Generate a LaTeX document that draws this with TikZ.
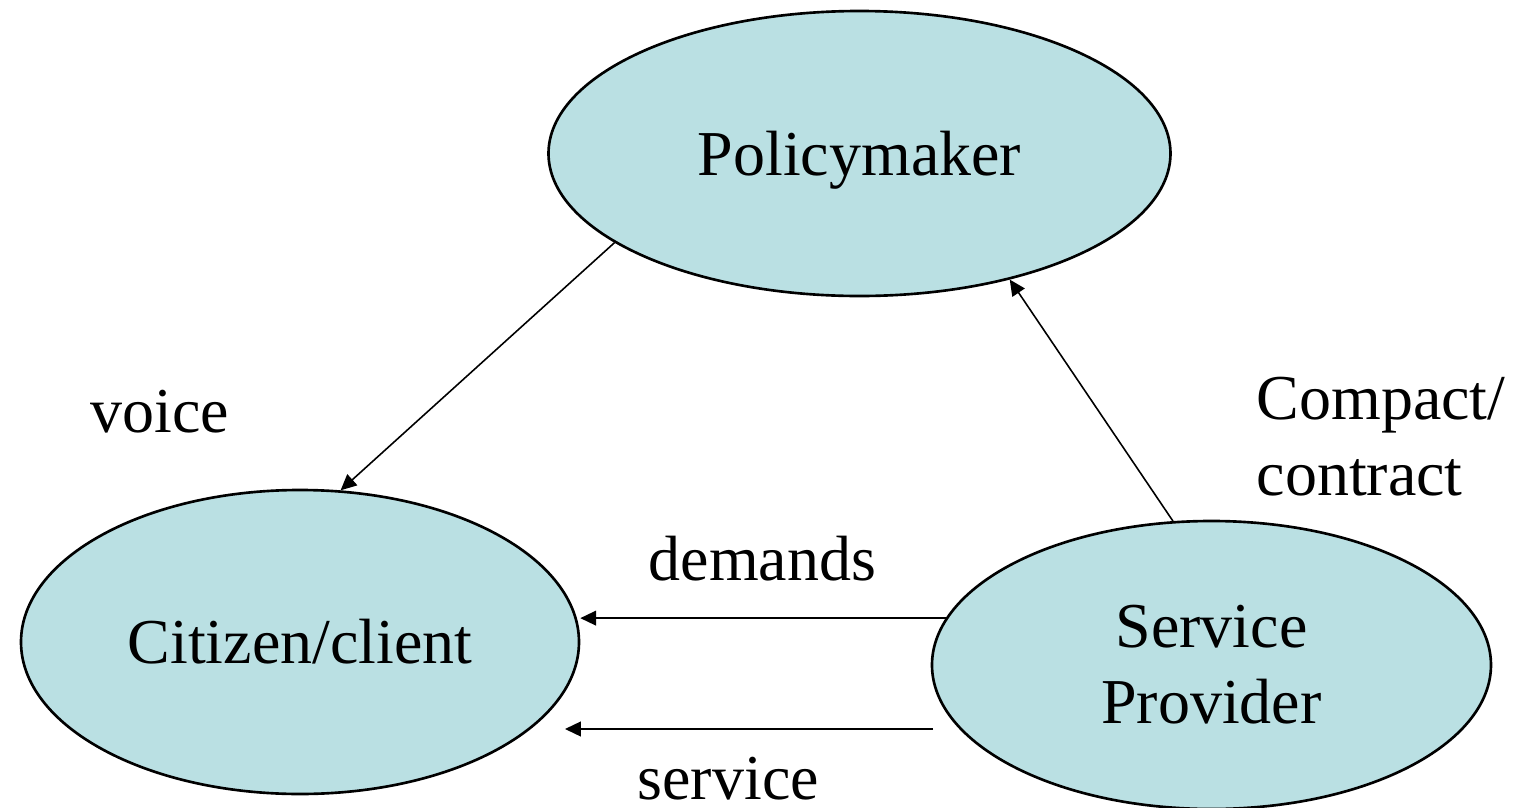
\documentclass[tikz,border=0pt]{standalone}
\usepackage{xcolor}
\usepackage{fontspec}
\setmainfont{Liberation Serif}
\usepackage{tikz}
\usetikzlibrary{
	               	shapes.geometric,
	                arrows.meta
					}
\definecolor{bubble}{RGB}{186,224,227}

\begin{document}
\begin{tikzpicture}[
	actor/.style={ellipse, draw, line width=0.75pt, fill=bubble, inner sep=0pt},
	flow/.style={-{Triangle[length=4.5pt,width=4.2pt]}, line width=0.45pt},
	lbl/.style={inner sep=0pt, anchor=base west},
	font=\fontsize{18.2}{21.6}\selectfont]
	\useasboundingbox (0,0) rectangle (15.17,-8.08);
	% the three parties
	\node[actor, minimum width=6.22cm, minimum height=2.85cm, text depth=0pt] (pm) at (8.595,-1.535) {Policymaker};
	\node[actor, minimum width=5.58cm, minimum height=3.04cm] (cit) at (3.00,-6.42) {Citizen/client};
	\node[actor, minimum width=5.59cm, minimum height=2.88cm, align=center] (sp) at (12.115,-6.65) {Service\\Provider};
	% relations
	\node[lbl] (voice) at (0.90,-4.32) {voice};
	\node[lbl, align=left] (compact) at (12.56,-4.95) {Compact/\\contract};
	\node[lbl] (demands) at (6.48,-5.80) {demands};
	\node[lbl] (service) at (6.37,-7.99) {service};
	\coordinate (srvfrom) at (9.33,-7.29);
	\coordinate (srvto) at (5.65,-7.29);
	\draw[flow] (pm.200) -- (cit.75);
	\draw[flow] (sp.105) -- (pm.-40);
	\draw[flow] (sp.170) -- (sp.170 -| cit.east);
	\draw[flow] (srvfrom) -- (srvto);
\end{tikzpicture}
\end{document}
